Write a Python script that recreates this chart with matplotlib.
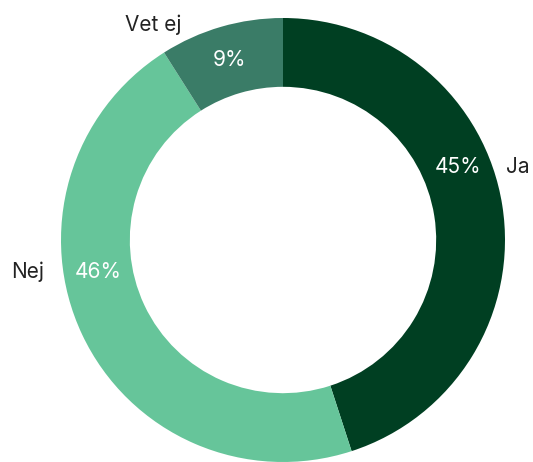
import matplotlib
matplotlib.use("Agg")
from matplotlib import pyplot as plt

labels = ["Ja", "Nej", "Vet ej"]
values = [45, 46, 9]
colors = ["#003f22", "#66c59a", "#3a7c67"]

# label placement (axes data units, ring radius = 1)
pct_pos = [(0.788, 0.329), (-0.833, -0.144), (-0.239, 0.811)]
name_pos = [(1.059, 0.329), (-1.149, -0.144), (-0.586, 0.968)]

plt.rcParams['font.family'] = ['Inter', 'DejaVu Sans']

fig = plt.figure(figsize=(5.33, 4.62), dpi=100)
ax = fig.add_axes([61 / 533, 0, 444 / 533, 444 / 462])

ax.pie(values, colors=colors, startangle=90, counterclock=False, radius=1,
       wedgeprops=dict(width=0.31, linewidth=0))

for v, (x, y) in zip(values, pct_pos):
  ax.text(x, y, "%d%%" % v, color="white", fontsize=15, ha="center", va="center")
for name, (x, y) in zip(labels, name_pos):
  ax.text(x, y, name, color="#222222", fontsize=15, ha="center", va="center", clip_on=False)

ax.set_xlim(-1, 1)
ax.set_ylim(-1, 1)
ax.set_aspect("equal")
ax.axis("off")

fig.savefig("out.png", dpi=100)
